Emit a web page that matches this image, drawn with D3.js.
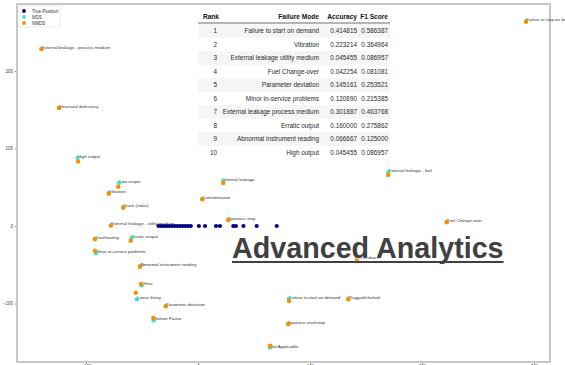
<!DOCTYPE html>
<html>
<head>
<meta charset="utf-8">
<script src="https://cdn.jsdelivr.net/npm/d3@7"></script>
<style>
  html, body { margin: 0; padding: 0; background: #fff; }
  svg { display: block; font-family: "Liberation Sans", Arial, sans-serif; }
</style>
</head>
<body>
<svg id="chart" width="565" height="365"></svg>
<script>
// Failure modes and their 2-D embeddings
const modes = [
  "External leakage - process medium", "Structural deficiency", "High output", "Low output",
  "Vibration", "Stuck (valve)", "External leakage - utility medium", "Overheating",
  "Erratic output", "Minor in-service problems", "Abnormal instrument reading", "Other",
  "Loose fitting", "Parameter deviation", "Human Factor", "Internal leakage",
  "Contamination", "Spurious stop", "Failure to start on demand", "Plugged/choked",
  "Spurious start/stop", "Not Applicable", "Breakdown", "External leakage - fuel",
  "Fuel Change-over", "Failure to stop on demand"
];
const mdsX = [-139.7, -124.1, -107.4, -70.5, -79.7, -66.7, -77.7, -92, -59.2, -91.3, -51.8, -50.3,
  -54.5, -28.8, -39.6, 22.6, 3.8, 27.1, 81.3, 134.2, 80.6, 64.3, 142, 169.9, 222.1, 292.9];
const mdsY = [228.4, 152.3, 88.1, 55.9, 42.5, 24.2, 1.0, -16.5, -15.1, -35.2, -52, -76.5,
  -94.6, -103, -121.7, 58.5, 35, 8.3, -93.8, -94, -126, -156.8, -42, 69.3, 5.3, 264.2];
const nmdsX = [-139.7, -124.1, -107.1, -71.2, -79.7, -66.7, -77.7, -92, -60.1, -92, -51.8, -50.9,
  -55.6, -28.8, -39.9, 22.6, 3.8, 27.1, 81.3, 134.2, 80.6, 64.3, 142, 169.9, 222.1, 292.9];
const nmdsY = [228.4, 152.3, 83.2, 50.7, 41.7, 23.6, 0.5, -17.2, -19, -31.9, -52.5, -74.8,
  -86.1, -103.6, -118.7, 55.5, 34.5, 7.7, -96.8, -94.6, -126.5, -154.5, -42.6, 65.8, 4.8, 263.6];
const trueX = [-35.2, -32.8, -30.4, -28, -25.6, -23.2, -20.8, -18.4, -16, -13.6, -11.2, -8.8,
  -6.4, 0.8, 6.3, 16.1, 19.6, 31.5, 33.9, 40.6, 52.4, 70.3];

const xTicks = [-100, 0, 100, 200, 300];
const yTicks = [-100, 0, 100, 200];

const legendLabels = ["True Position", "MDS", "NMDS"];
const legendColors = ["#000080", "#40e0d0", "#ff8c00"];

// Ranking table
const tableHeader = ["Rank", "Failure Mode", "Accuracy", "F1 Score"];
const tableRank = [1, 2, 3, 4, 5, 6, 7, 8, 9, 10];
const tableMode = [
  "Failure to start on demand", "Vibration", "External leakage utility medium", "Fuel Change-over",
  "Parameter deviation", "Minor in-service problems", "External leakage process medium",
  "Erratic output", "Abnormal instrument reading", "High output"
];
const tableAccuracy = ["0.414815", "0.223214", "0.045455", "0.042254", "0.145161",
  "0.120690", "0.301887", "0.160000", "0.066667", "0.045455"];
const tableF1 = ["0.586387", "0.364964", "0.086957", "0.081081", "0.253521",
  "0.215385", "0.463768", "0.275862", "0.125000", "0.086957"];

const svg = d3.select("#chart");

const frame = { left: 17, right: 550, top: 4, bottom: 362 };

const x = d3.scaleLinear().domain([-100, 300]).range([86, 534]);
const y = d3.scaleLinear().domain([-100, 200]).range([303.5, 71]);

// Axes
const yAxis = svg.append("g")
  .attr("transform", `translate(${frame.left},0)`)
  .call(d3.axisLeft(y).tickValues(yTicks).tickSize(2).tickPadding(2));
const xAxis = svg.append("g")
  .attr("transform", `translate(0,${frame.bottom})`)
  .call(d3.axisBottom(x).tickValues(xTicks).tickSize(2).tickPadding(1));
[yAxis, xAxis].forEach(g => {
  g.select(".domain").remove();
  g.selectAll("line").attr("stroke", "#888");
  g.selectAll("text").attr("fill", "#444").style("font-size", "4.5px");
});

// Frame
svg.append("rect")
  .attr("x", frame.left).attr("y", frame.top)
  .attr("width", frame.right - frame.left).attr("height", frame.bottom - frame.top)
  .attr("fill", "none").attr("stroke", "#c8c8c8").attr("stroke-width", 2);

// Point labels (anchored at MDS positions)
svg.append("g").selectAll("text")
  .data(modes)
  .join("text")
  .attr("x", (d, i) => x(mdsX[i]))
  .attr("y", (d, i) => y(mdsY[i]))
  .attr("fill", "#333")
  .style("font-size", "4.4px")
  .text(d => d);

// MDS then NMDS points
svg.append("g").selectAll("circle")
  .data(modes)
  .join("circle")
  .attr("cx", (d, i) => x(mdsX[i]))
  .attr("cy", (d, i) => y(mdsY[i]))
  .attr("r", 2.2)
  .attr("fill", legendColors[1]);

svg.append("g").selectAll("circle")
  .data(modes)
  .join("circle")
  .attr("cx", (d, i) => x(nmdsX[i]))
  .attr("cy", (d, i) => y(nmdsY[i]))
  .attr("r", 2.2)
  .attr("fill", legendColors[2]);

// True positions on the x axis
svg.append("g").selectAll("circle")
  .data(trueX)
  .join("circle")
  .attr("cx", d => x(d))
  .attr("cy", y(0))
  .attr("r", 2.1)
  .attr("fill", legendColors[0]);

// Legend
const legend = svg.append("g").attr("transform", "translate(19,6)");
legend.append("rect")
  .attr("width", 41).attr("height", 21).attr("rx", 1)
  .attr("fill", "#fff").attr("stroke", "#ddd").attr("stroke-width", 0.6);
legendLabels.forEach((lab, i) => {
  legend.append("circle").attr("cx", 5).attr("cy", 5 + i * 6).attr("r", 1.9).attr("fill", legendColors[i]);
  legend.append("text").attr("x", 13).attr("y", 6.6 + i * 6)
    .attr("fill", "#333").style("font-size", "4.5px").text(lab);
});

// Table overlay
const table = svg.append("g");
const rowH = 13.5, row0 = 31;
const colRight = [219, 319, 357, 388];
table.append("rect")
  .attr("x", 196).attr("y", 7).attr("width", 198).attr("height", 153)
  .attr("fill", "#fff");
tableRank.forEach((r, i) => {
  if (i % 2 === 0) {
    table.append("rect")
      .attr("x", 198).attr("y", row0 + i * rowH - rowH / 2)
      .attr("width", 192).attr("height", rowH)
      .attr("fill", "#f5f5f5");
  }
});
tableHeader.forEach((h, j) => {
  table.append("text")
    .attr("x", colRight[j]).attr("y", 19)
    .attr("text-anchor", "end")
    .attr("fill", "#111").style("font-size", "6.6px").style("font-weight", "bold")
    .text(h);
});
table.append("line")
  .attr("x1", 198).attr("x2", 390).attr("y1", 23).attr("y2", 23)
  .attr("stroke", "#444").attr("stroke-width", 0.8);
const cols = [tableRank, tableMode, tableAccuracy, tableF1];
tableRank.forEach((r, i) => {
  cols.forEach((col, j) => {
    table.append("text")
      .attr("x", colRight[j] - (j === 0 ? 2 : 0))
      .attr("y", row0 + i * rowH + 2.2)
      .attr("text-anchor", "end")
      .attr("fill", "#2a2a2a").style("font-size", "6.4px")
      .text(col[i]);
  });
});

// Big caption
const title = svg.append("text")
  .attr("x", 232).attr("y", 258)
  .attr("fill", "#404040")
  .attr("stroke", "#fff").attr("stroke-width", 1.2)
  .style("paint-order", "stroke")
  .style("font-size", "28.7px").style("font-weight", "bold")
  .text("Advanced Analytics");
const tw = title.node().getComputedTextLength();
svg.append("line")
  .attr("x1", 232).attr("x2", 232 + tw)
  .attr("y1", 262).attr("y2", 262)
  .attr("stroke", "#404040").attr("stroke-width", 2);
</script>
</body>
</html>
